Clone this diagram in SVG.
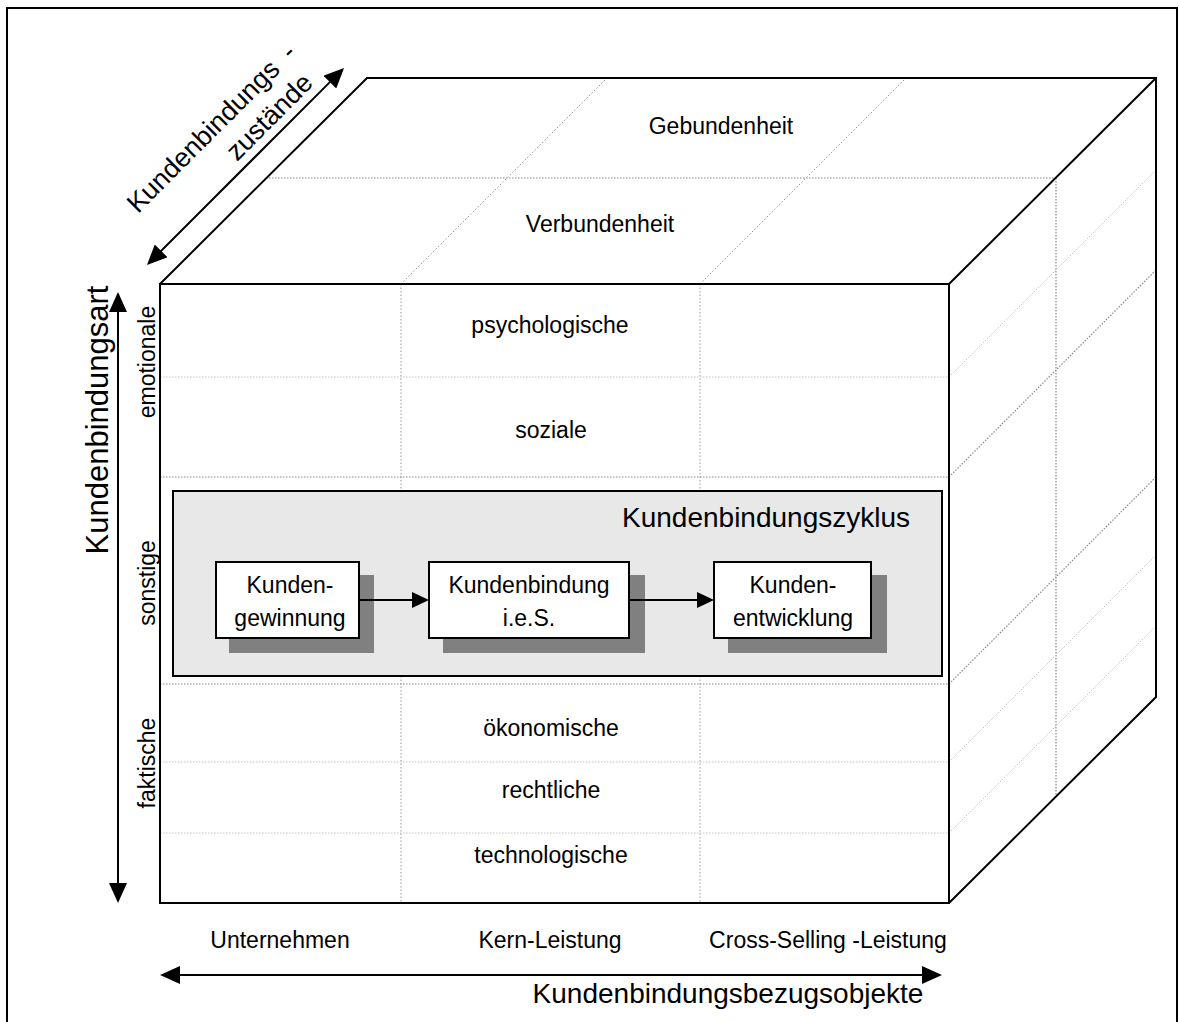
<svg xmlns="http://www.w3.org/2000/svg" width="1179" height="1022" viewBox="0 0 1179 1022">
<style>
text{font-family:"Liberation Sans",Arial,sans-serif;fill:#000}
.s{font-size:23px}
.b{font-size:28px}
.m{text-anchor:middle}
.edge{fill:none;stroke:#000;stroke-width:2;stroke-linejoin:miter}
.gl{fill:none;stroke:#c4c4c4;stroke-width:1;stroke-dasharray:1.5 1.5}
.gd{fill:none;stroke:#888;stroke-width:1.2;stroke-dasharray:1.5 1.5}
.gm{fill:none;stroke:#999;stroke-width:1;stroke-dasharray:1.5 2}
.box{fill:#fff;stroke:#000;stroke-width:2}
.shadow{fill:#808080}
.arr{fill:none;stroke:#000;stroke-width:2}
</style>
<defs>
<marker id="big" viewBox="0 0 20 18" refX="18" refY="9" markerWidth="20" markerHeight="18" markerUnits="userSpaceOnUse" orient="auto-start-reverse">
<path d="M0,0 L20,9 L0,18 z" fill="#000"/>
</marker>
<marker id="small" viewBox="0 0 17 16" refX="15" refY="8" markerWidth="17" markerHeight="16" markerUnits="userSpaceOnUse" orient="auto">
<path d="M0,0 L17,8 L0,16 z" fill="#000"/>
</marker>
</defs>
<rect x="0" y="0" width="1179" height="1022" fill="#fff"/>
<rect id="frame" x="7" y="8" width="1170" height="1040" fill="none" stroke="#000" stroke-width="2"/>

<g id="grid">
<!-- front face -->
<line class="gm" x1="401" y1="284" x2="401" y2="903"/>
<line class="gm" x1="700" y1="284" x2="700" y2="903"/>
<line class="gl" x1="160" y1="377" x2="949" y2="377"/>
<line class="gd" x1="160" y1="477" x2="949" y2="477"/>
<line class="gd" x1="160" y1="684" x2="949" y2="684"/>
<line class="gl" x1="160" y1="762" x2="949" y2="762"/>
<line class="gl" x1="160" y1="833" x2="949" y2="833"/>
<!-- top face -->
<line class="gd" x1="266" y1="178" x2="1056" y2="178"/>
<line class="gm" x1="401" y1="284" x2="607" y2="78"/>
<line class="gm" x1="700" y1="284" x2="906" y2="78"/>
<!-- right face -->
<line class="gd" x1="1056" y1="178" x2="1056" y2="796"/>
<line class="gl" x1="949" y1="377" x2="1156" y2="170"/>
<line class="gd" x1="949" y1="477" x2="1156" y2="270"/>
<line class="gd" x1="949" y1="684" x2="1156" y2="477"/>
<line class="gl" x1="949" y1="762" x2="1156" y2="555"/>
<line class="gl" x1="949" y1="833" x2="1156" y2="626"/>
</g>

<g id="cube">
<rect class="edge" x="160" y="284" width="789" height="619"/>
<polyline class="edge" points="160,284 367,78 1156,78 1156,697 949,903"/>
<line class="edge" x1="949" y1="284" x2="1156" y2="78"/>
</g>

<g id="cell-labels">
<text class="s m" x="721" y="134">Gebundenheit</text>
<text class="s m" x="600" y="232">Verbundenheit</text>
<text class="s m" x="550" y="333">psychologische</text>
<text class="s m" x="551" y="438">soziale</text>
<text class="s m" x="551" y="736">ökonomische</text>
<text class="s m" x="551" y="798">rechtliche</text>
<text class="s m" x="551" y="863">technologische</text>
</g>

<g id="side-labels">
<text class="s m" transform="translate(155,362) rotate(-90)">emotionale</text>
<text class="s m" transform="translate(155,583) rotate(-90)">sonstige</text>
<text class="s m" transform="translate(155,763) rotate(-90)">faktische</text>
<text class="m" font-size="31" transform="translate(108,420) rotate(-90)">Kundenbindungsart</text>
<g transform="rotate(-45)">
<text font-size="27" x="-54" y="249">Kundenbindungs<tspan x="163">-</tspan></text>
<text font-size="27" x="53" y="282">zustände</text>
</g>
</g>

<g id="bottom-labels">
<text class="s m" x="280" y="948">Unternehmen</text>
<text class="s m" x="550" y="948">Kern-Leistung</text>
<text class="s m" x="828" y="948">Cross-Selling -Leistung</text>
<text class="b m" x="728" y="1003">Kundenbindungsbezugsobjekte</text>
</g>

<g id="zyklus">
<rect x="173" y="491" width="769" height="185" fill="#e8e8e8" stroke="#000" stroke-width="2"/>
<text class="b" x="910" y="527" text-anchor="end">Kundenbindungszyklus</text>
</g>

<g id="node-gewinnung">
<rect class="shadow" x="229" y="575" width="145" height="78"/>
<rect class="box" x="216" y="562" width="143" height="76"/>
<text class="s m" x="290" y="593">Kunden-</text>
<text class="s m" x="290" y="626">gewinnung</text>
</g>
<g id="node-bindung">
<rect class="shadow" x="443" y="575" width="202" height="78"/>
<rect class="box" x="429" y="562" width="200" height="76"/>
<text class="s m" x="529" y="593">Kundenbindung</text>
<text class="s m" x="529" y="626">i.e.S.</text>
</g>
<g id="node-entwicklung">
<rect class="shadow" x="728" y="575" width="159" height="78"/>
<rect class="box" x="714" y="562" width="157" height="76"/>
<text class="s m" x="793" y="593">Kunden-</text>
<text class="s m" x="793" y="626">entwicklung</text>
</g>

<g id="connectors">
<line class="arr" x1="359" y1="600" x2="427" y2="600" marker-end="url(#small)"/>
<line class="arr" x1="629" y1="600" x2="712" y2="600" marker-end="url(#small)"/>
<line class="arr" x1="118" y1="294" x2="118" y2="901" marker-start="url(#big)" marker-end="url(#big)"/>
<line class="arr" x1="162" y1="975" x2="940" y2="975" marker-start="url(#big)" marker-end="url(#big)"/>
<line class="arr" x1="148.4" y1="263.6" x2="342.6" y2="69.4" marker-start="url(#big)" marker-end="url(#big)"/>
</g>
</svg>
